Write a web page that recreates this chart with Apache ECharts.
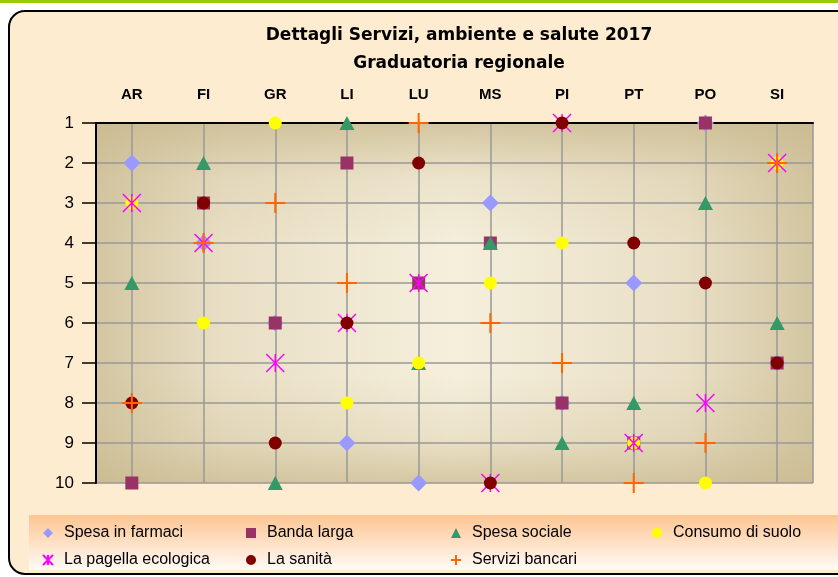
<!DOCTYPE html>
<html>
<head>
<meta charset="utf-8">
<script src="https://cdn.jsdelivr.net/npm/echarts@6/dist/echarts.min.js"></script>
<style>
  html, body { margin: 0; padding: 0; background: #ffffff; }
  #chart { width: 838px; height: 577px; }
</style>
</head>
<body>
<div id="chart"></div>
<script>
// province e ranking (1 = migliore)
const categories = ["AR", "FI", "GR", "LI", "LU", "MS", "PI", "PT", "PO", "SI"];
const rankTicks = [1, 2, 3, 4, 5, 6, 7, 8, 9, 10];

const spesaFarmaci = [2, 4, 6, 9, 10, 3, 8, 5, 1, 7];
const bandaLarga = [10, 3, 6, 2, 5, 4, 8, 9, 1, 7];
const spesaSociale = [5, 2, 10, 1, 7, 4, 9, 8, 3, 6];
const consumoSuolo = [3, 6, 1, 8, 7, 5, 4, 9, 10, 2];
const pagellaEcologica = [3, 4, 7, 6, 5, 10, 1, 9, 8, 2];
const sanita = [8, 3, 9, 6, 2, 10, 1, 4, 5, 7];
const serviziBancari = [8, 4, 3, 5, 1, 6, 7, 10, 9, 2];

// colonne della legenda come in Excel (2 righe x 4 colonne)
const legendColumns = [
  ["Spesa in farmaci", "La pagella ecologica"],
  ["Banda larga", "La sanità"],
  ["Spesa sociale", "Servizi bancari"],
  ["Consumo di suolo"]
];
const legendLeft = [37, 241, 445, 647];

const ASTERISK = "path://M0,0L10,10M10,0L0,10M5,0L5,10";
const PLUS = "path://M5,0L5,10M0,5L10,5";

const chart = echarts.init(document.getElementById("chart"));

function scatter(name, data, symbol, size, color, stroke) {
  let s = {
    name: name,
    type: "scatter",
    xAxisIndex: 0,
    yAxisIndex: 0,
    data: data,
    symbol: symbol,
    symbolSize: size,
    itemStyle: { color: color, opacity: 1 },
    emphasis: { disabled: true },
    z: 5
  };
  if (stroke) {
    s.itemStyle = { color: "rgba(0,0,0,0)", borderColor: color, borderWidth: stroke, opacity: 1 };
  }
  return s;
}

const legends = legendColumns.map(function (col, i) {
  return {
    orient: "vertical",
    left: legendLeft[i],
    top: 520,
    itemWidth: 10,
    itemHeight: 10,
    itemGap: 11,
    textStyle: { fontSize: 16, color: "#000", padding: [0, 0, 0, 6] },
    data: col
  };
});

const option = {
  animation: false,
  textStyle: { fontFamily: "Liberation Sans, Arial, sans-serif" },
  title: {
    text: "Dettagli Servizi, ambiente e salute 2017",
    subtext: "Graduatoria regionale",
    left: 454,
    textAlign: "center",
    top: 22,
    itemGap: 11,
    textStyle: { fontSize: 17, fontWeight: "bold", color: "#000", fontFamily: "DejaVu Sans" },
    subtextStyle: { fontSize: 17, fontWeight: "bold", color: "#000", fontFamily: "DejaVu Sans" }
  },
  graphic: [
    { type: "rect", z: -5, shape: { x: 0, y: 0, width: 838, height: 3 }, style: { fill: "#99cc00" } },
    {
      type: "rect", z: -4,
      shape: { x: 9, y: 11, width: 860, height: 563, r: 16 },
      style: { fill: "#fdecd0", stroke: "#000", lineWidth: 2 }
    },
    {
      type: "rect", z: -3,
      shape: { x: 29, y: 515, width: 820, height: 55 },
      style: {
        fill: new echarts.graphic.LinearGradient(0, 0, 0, 1, [
          { offset: 0, color: "#fdc592" },
          { offset: 1, color: "#fffbf6" }
        ])
      }
    }
  ],
  legend: legends,
  grid: [
    {
      left: 96, right: 25, top: 123, bottom: 94,
      show: true, borderWidth: 0,
      backgroundColor: new echarts.graphic.LinearGradient(0, 0, 1, 0, [
        { offset: 0, color: "#d3c6a1" },
        { offset: 0.18, color: "#e9dfc5" },
        { offset: 0.5, color: "#f5efdc" },
        { offset: 0.82, color: "#e9dfc5" },
        { offset: 1, color: "#d3c6a1" }
      ])
    },
    {
      left: 96, right: 25, top: 123, bottom: 94,
      show: true, borderWidth: 0,
      backgroundColor: new echarts.graphic.LinearGradient(0, 0, 0, 1, [
        { offset: 0, color: "rgba(200,184,140,0.75)" },
        { offset: 0.15, color: "rgba(200,184,140,0.2)" },
        { offset: 0.35, color: "rgba(200,184,140,0)" },
        { offset: 0.7, color: "rgba(200,184,140,0)" },
        { offset: 0.88, color: "rgba(200,184,140,0.25)" },
        { offset: 1, color: "rgba(200,184,140,0.7)" }
      ])
    }
  ],
  xAxis: [
    {
      type: "category",
      gridIndex: 0,
      position: "top",
      data: categories,
      boundaryGap: true,
      axisLine: { show: true, lineStyle: { color: "#000", width: 2 } },
      axisTick: { show: false },
      splitLine: { show: false },
      axisLabel: { fontSize: 15, fontWeight: "bold", color: "#000", margin: 21 }
    },
    {
      // solo per le linee verticali sul centro delle categorie
      type: "value",
      gridIndex: 0,
      min: 0.5,
      max: 10.5,
      splitNumber: 10,
      minInterval: 1,
      maxInterval: 1,
      axisLine: { show: false },
      axisTick: { show: false },
      axisLabel: { show: false },
      splitLine: { show: true, lineStyle: { color: "#999", width: 1.5 } }
    }
  ],
  yAxis: [
    {
      type: "value",
      gridIndex: 0,
      inverse: true,
      min: 1,
      max: 10,
      interval: 1,
      axisLine: { show: true, lineStyle: { color: "#000", width: 2 } },
      axisTick: { show: true, length: 14, lineStyle: { color: "#000", width: 1.5 } },
      axisLabel: {
        fontSize: 17, color: "#000", margin: 22,
        formatter: function (v) { return rankTicks.indexOf(v) >= 0 ? String(v) : ""; }
      },
      splitLine: { show: true, lineStyle: { color: "#999", width: 1.5 } }
    }
  ],
  series: [
    scatter("Spesa in farmaci", spesaFarmaci, "diamond", 17, "#9999ff"),
    scatter("Banda larga", bandaLarga, "rect", 13, "#993366"),
    scatter("Spesa sociale", spesaSociale, "triangle", [15, 14], "#339966"),
    scatter("Consumo di suolo", consumoSuolo, "circle", 13, "#ffff00"),
    scatter("La pagella ecologica", pagellaEcologica, ASTERISK, 18, "#ff00ff", 1.5),
    scatter("La sanità", sanita, "circle", 13, "#800000"),
    scatter("Servizi bancari", serviziBancari, PLUS, 20, "#ff6600", 2)
  ]
};

chart.setOption(option);
</script>
</body>
</html>
